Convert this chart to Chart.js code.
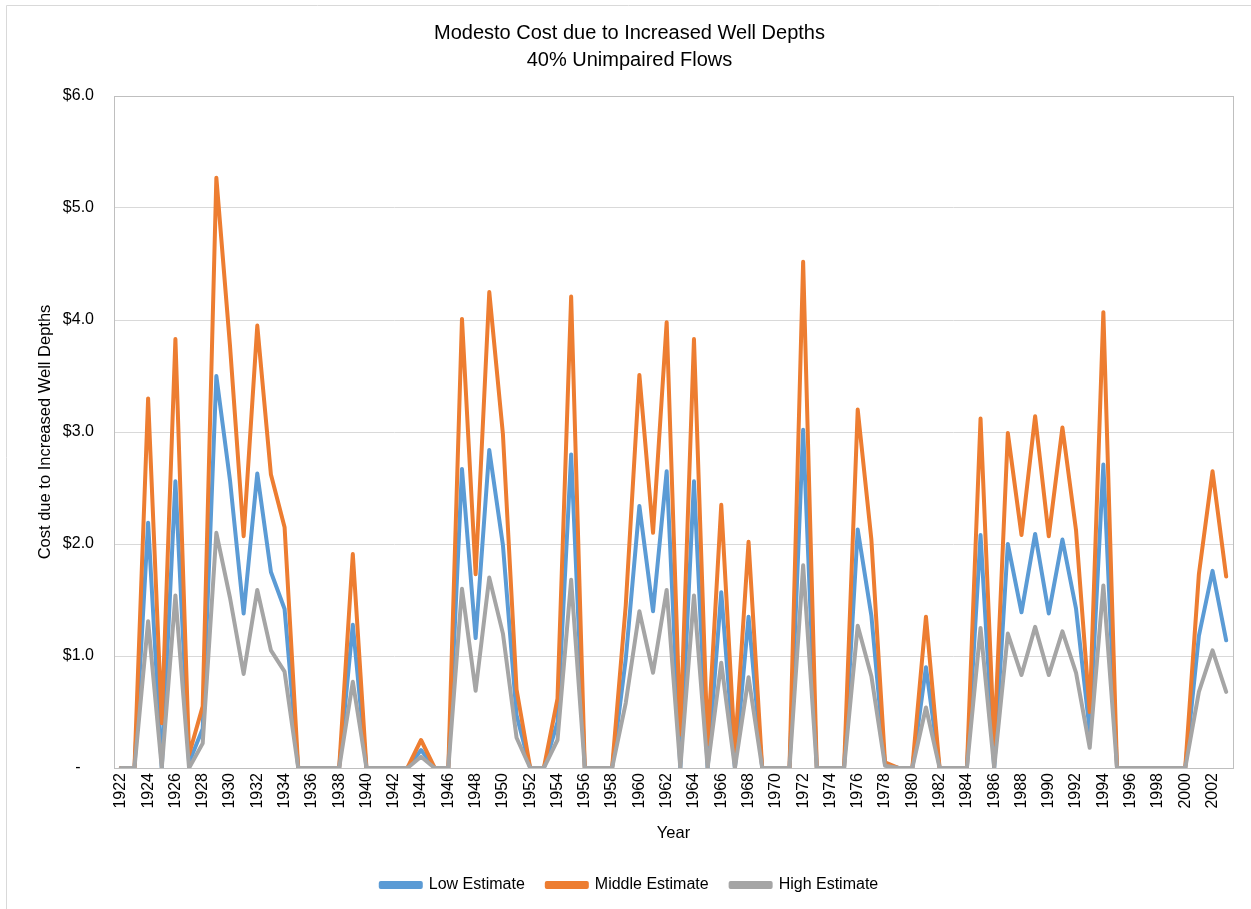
<!DOCTYPE html>
<html>
<head>
<meta charset="utf-8">
<script src="https://cdn.jsdelivr.net/npm/chart.js@4/dist/chart.umd.min.js"></script>
<style>
  body { margin: 0; background: #ffffff; }
  #wrap { position: relative; width: 1251px; height: 909px; }
</style>
</head>
<body>
<div id="wrap"><canvas id="chart_content" width="1251" height="909"></canvas></div>
<script>
var years = [
  "1922", "1923", "1924", "1925", "1926", "1927", "1928", "1929", "1930", "1931",
  "1932", "1933", "1934", "1935", "1936", "1937", "1938", "1939", "1940", "1941",
  "1942", "1943", "1944", "1945", "1946", "1947", "1948", "1949", "1950", "1951",
  "1952", "1953", "1954", "1955", "1956", "1957", "1958", "1959", "1960", "1961",
  "1962", "1963", "1964", "1965", "1966", "1967", "1968", "1969", "1970", "1971",
  "1972", "1973", "1974", "1975", "1976", "1977", "1978", "1979", "1980", "1981",
  "1982", "1983", "1984", "1985", "1986", "1987", "1988", "1989", "1990", "1991",
  "1992", "1993", "1994", "1995", "1996", "1997", "1998", "1999", "2000", "2001",
  "2002", "2003"
];

var lowEstimate = [
  0, 0, 2.19, 0, 2.56, 0.05, 0.35, 3.50, 2.57, 1.38,
  2.63, 1.75, 1.42, 0, 0, 0, 0, 1.28, 0, 0,
  0, 0, 0.16, 0, 0, 2.67, 1.16, 2.84, 1.99, 0.47,
  0, 0, 0.41, 2.80, 0, 0, 0, 0.97, 2.34, 1.40,
  2.65, 0, 2.56, 0, 1.57, 0, 1.35, 0, 0, 0,
  3.02, 0, 0, 0, 2.13, 1.36, 0.03, 0, 0, 0.90,
  0, 0, 0, 2.08, 0, 2.00, 1.39, 2.09, 1.38, 2.04,
  1.42, 0.33, 2.71, 0, 0, 0, 0, 0, 0, 1.18,
  1.76, 1.14
];

var middleEstimate = [
  0, 0, 3.30, 0.40, 3.83, 0.12, 0.55, 5.27, 3.77, 2.07,
  3.95, 2.62, 2.15, 0, 0, 0, 0, 1.91, 0, 0,
  0, 0, 0.25, 0, 0, 4.01, 1.73, 4.25, 2.98, 0.70,
  0, 0, 0.62, 4.21, 0, 0, 0, 1.45, 3.51, 2.10,
  3.98, 0.30, 3.83, 0.21, 2.35, 0.15, 2.02, 0, 0, 0,
  4.52, 0, 0, 0, 3.20, 2.04, 0.05, 0, 0, 1.35,
  0, 0, 0, 3.12, 0.21, 2.99, 2.08, 3.14, 2.07, 3.04,
  2.12, 0.50, 4.07, 0, 0, 0, 0, 0, 0, 1.73,
  2.65, 1.71
];

var highEstimate = [
  0, 0, 1.31, 0, 1.54, 0, 0.22, 2.10, 1.52, 0.84,
  1.59, 1.05, 0.86, 0, 0, 0, 0, 0.77, 0, 0,
  0, 0, 0.10, 0, 0, 1.60, 0.69, 1.70, 1.20, 0.27,
  0, 0, 0.25, 1.68, 0, 0, 0, 0.58, 1.40, 0.85,
  1.59, 0, 1.54, 0, 0.94, 0, 0.81, 0, 0, 0,
  1.81, 0, 0, 0, 1.27, 0.82, 0.02, 0, 0, 0.54,
  0, 0, 0, 1.25, 0, 1.20, 0.83, 1.26, 0.83, 1.22,
  0.85, 0.18, 1.63, 0, 0, 0, 0, 0, 0, 0.68,
  1.05, 0.68
];

var seriesNames = ["Low Estimate", "Middle Estimate", "High Estimate"];
var yTicks = [0, 1, 2, 3, 4, 5, 6];

var FONT = "'Liberation Sans', Arial, sans-serif";

// light frame round the whole chart and round the plot area
var framePlugin = {
  id: "frame",
  beforeDraw: function (chart) {
    var ctx = chart.ctx;
    ctx.save();
    ctx.strokeStyle = "#D9D9D9";
    ctx.lineWidth = 1;
    ctx.beginPath();
    ctx.moveTo(6.5, 909);
    ctx.lineTo(6.5, 5.5);
    ctx.lineTo(1251, 5.5);
    ctx.stroke();
    ctx.restore();
  },
  afterDatasetsDraw: function (chart) {
    var a = chart.chartArea;
    var ctx = chart.ctx;
    ctx.save();
    ctx.strokeStyle = "#BFBFBF";
    ctx.lineWidth = 1;
    ctx.strokeRect(Math.round(a.left) + 0.5, Math.round(a.top) + 0.5,
      Math.round(a.right - a.left), Math.round(a.bottom - a.top));
    ctx.restore();
  }
};

function lineSet(label, data, color, order) {
  return {
    label: label,
    data: data,
    borderColor: color,
    backgroundColor: color,
    borderWidth: 4,
    borderJoinStyle: "round",
    borderCapStyle: "round",
    pointRadius: 0,
    pointHoverRadius: 0,
    tension: 0,
    fill: false,
    order: order
  };
}

var canvasElement = document.getElementById("chart_content");

var config = {
  type: "line",
  data: {
    labels: years,
    datasets: [
      lineSet(seriesNames[0], lowEstimate, "#5B9BD5", 2),
      lineSet(seriesNames[1], middleEstimate, "#ED7D31", 1),
      lineSet(seriesNames[2], highEstimate, "#A5A5A5", 0)
    ]
  },
  options: {
    responsive: false,
    animation: false,
    layout: { padding: { left: 26, right: 18, top: 9, bottom: 6 } },
    plugins: {
      title: {
        display: true,
        text: ["Modesto Cost due to Increased Well Depths", "40% Unimpaired Flows"],
        color: "#000000",
        font: { family: FONT, size: 20, weight: "normal", lineHeight: 1.35 },
        padding: { top: 10.5, bottom: 22.5 }
      },
      legend: {
        position: "bottom",
        labels: {
          color: "#000000",
          font: { family: FONT, size: 16 },
          boxWidth: 40,
          boxHeight: 4,
          padding: 22,
          sort: function (a, b) { return a.datasetIndex - b.datasetIndex; }
        }
      },
      tooltip: { enabled: false }
    },
    scales: {
      x: {
        type: "category",
        offset: true,
        grid: { display: false, drawTicks: false },
        border: { display: true, color: "#BFBFBF" },
        ticks: {
          autoSkip: false,
          maxRotation: 90,
          minRotation: 90,
          padding: 5,
          color: "#000000",
          font: { family: FONT, size: 16 },
          callback: function (value, index) {
            return index % 2 === 0 ? this.getLabelForValue(value) : "";
          }
        },
        title: {
          display: true,
          text: "Year",
          color: "#000000",
          font: { family: FONT, size: 16.5 },
          padding: { top: 0, bottom: 12 }
        },
        afterFit: function (scale) { scale.height = 87; }
      },
      y: {
        min: yTicks[0],
        max: yTicks[yTicks.length - 1],
        grid: { color: "#D9D9D9", drawTicks: false },
        border: { display: true, color: "#BFBFBF" },
        ticks: {
          stepSize: 1,
          padding: 20,
          color: "#000000",
          font: { family: FONT, size: 16 },
          callback: function (v) { return v === 0 ? "-   " : "$" + v.toFixed(1); }
        },
        title: {
          display: true,
          text: "Cost due to Increased Well Depths",
          color: "#000000",
          font: { family: FONT, size: 16.5 },
          padding: { top: 10, bottom: 0 }
        },
        afterFit: function (scale) { scale.width = 88; }
      }
    }
  },
  plugins: [framePlugin]
};

var content_chart = new Chart(canvasElement, config);
</script>
</body>
</html>
